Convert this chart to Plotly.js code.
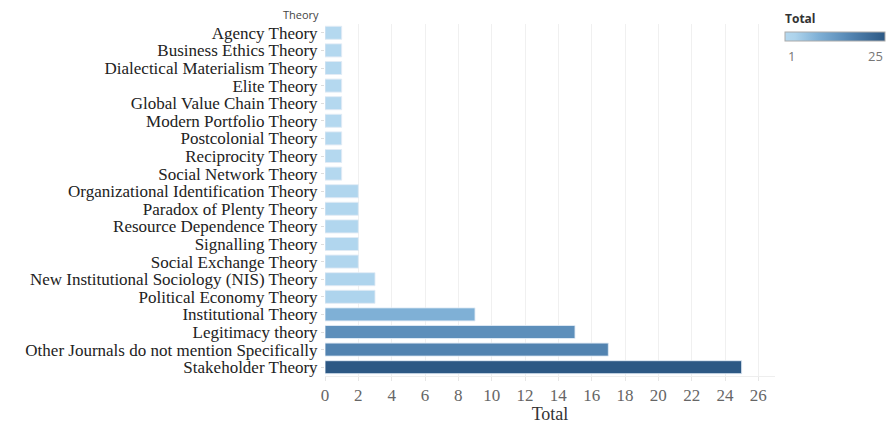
<!DOCTYPE html>
<html>
<head>
<meta charset="utf-8">
<script src="https://cdn.plot.ly/plotly-3.0.1.min.js"></script>
<style>html,body{margin:0;padding:0;background:#fff;}#chart{width:890px;height:424px;}</style>
</head>
<body>
<div id="chart"></div>
<script>
const theories = [
  "Agency Theory",
  "Business Ethics Theory",
  "Dialectical Materialism Theory",
  "Elite Theory",
  "Global Value Chain Theory",
  "Modern Portfolio Theory",
  "Postcolonial Theory",
  "Reciprocity Theory",
  "Social Network Theory",
  "Organizational Identification Theory",
  "Paradox of Plenty Theory",
  "Resource Dependence Theory",
  "Signalling Theory",
  "Social Exchange Theory",
  "New Institutional Sociology (NIS) Theory",
  "Political Economy Theory",
  "Institutional Theory",
  "Legitimacy theory",
  "Other Journals do not mention Specifically",
  "Stakeholder Theory"
];
const totals = [1,1,1,1,1,1,1,1,1,2,2,2,2,2,3,3,9,15,17,25];
const xTicks = [0,2,4,6,8,10,12,14,16,18,20,22,24,26];
const legendTicks = [1,25];

const L = 325, R = 775, T = 24, B = 376;
const px = v => (v - L) / (R - L);
const py = v => (B - v) / (B - T);

// legend bar geometry (pixels)
const cbL = 785, cbR = 885, cbTop = 33, cbBot = 42;

const trace = {
  type: 'bar',
  orientation: 'h',
  x: totals,
  y: theories,
  marker: {
    color: totals,
    cmin: 1,
    cmax: 25,
    colorscale: [[0,'#b4d8ef'],[0.1,'#add3ec'],[0.333,'#7fb0d6'],[0.583,'#5d8fbb'],[0.667,'#5283b0'],[1,'#2c5884']],
    line: {color: 'rgba(225,235,245,0.9)', width: 1},
    colorbar: {
      orientation: 'h',
      x: px(cbL), xanchor: 'left',
      y: py(cbBot), yanchor: 'bottom',
      lenmode: 'pixels', len: cbR - cbL,
      thickness: cbBot - cbTop,
      xpad: 0, ypad: 0,
      outlinecolor: '#aaaaaa', outlinewidth: 1,
      showticklabels: false,
      ticks: ''
    }
  },
  hoverinfo: 'x+y'
};

const legendLabels = legendTicks.map((v, i) => ({
  text: String(v), xref: 'paper', yref: 'paper',
  x: px(i === 0 ? cbL + 1 : cbR), y: py(cbBot + 3),
  xanchor: i === 0 ? 'left' : 'right', yanchor: 'top', showarrow: false,
  font: {family: 'Open Sans, sans-serif', size: 13, color: '#777'}
}));

const layout = {
  width: 890, height: 424,
  margin: {l: L, r: 890 - R, t: T, b: 424 - B, autoexpand: false},
  paper_bgcolor: '#fff', plot_bgcolor: '#fff',
  bargap: 0.26,
  showlegend: false,
  xaxis: {
    range: [0, 27],
    tickvals: xTicks,
    ticktext: xTicks.map(String),
    showgrid: true, gridcolor: '#f0f0f0', gridwidth: 1,
    zeroline: false,
    showline: true, linecolor: '#eeeeee',
    ticks: 'outside', ticklen: 4, tickcolor: '#e6e6e6',
    tickfont: {family: 'Liberation Serif, Times New Roman, serif', size: 17, color: '#666'},
    title: {text: 'Total', standoff: 6, font: {family: 'Liberation Serif, Times New Roman, serif', size: 18, color: '#333'}},
    fixedrange: true
  },
  yaxis: {
    autorange: 'reversed',
    tickmode: 'array',
    tickvals: theories,
    ticktext: theories,
    showgrid: false, zeroline: false,
    showline: false,
    ticks: 'outside', ticklen: 3, tickcolor: '#dddddd',
    tickfont: {family: 'Liberation Serif, Times New Roman, serif', size: 17, color: '#222'},
    fixedrange: true
  },
  annotations: [{
    text: 'Theory', xref: 'paper', yref: 'paper',
    x: 0, y: 1, xshift: -4, yshift: 0,
    xanchor: 'right', yanchor: 'bottom', showarrow: false,
    font: {family: 'Open Sans, sans-serif', size: 11, color: '#444'}
  }, {
    text: '<b>Total</b>', xref: 'paper', yref: 'paper',
    x: px(783), y: py(cbTop - 4),
    xanchor: 'left', yanchor: 'bottom', showarrow: false,
    font: {family: 'Open Sans, sans-serif', size: 12, color: '#333'}
  }].concat(legendLabels)
};

Plotly.newPlot('chart', [trace], layout, {displayModeBar: false, staticPlot: true});
</script>
</body>
</html>
